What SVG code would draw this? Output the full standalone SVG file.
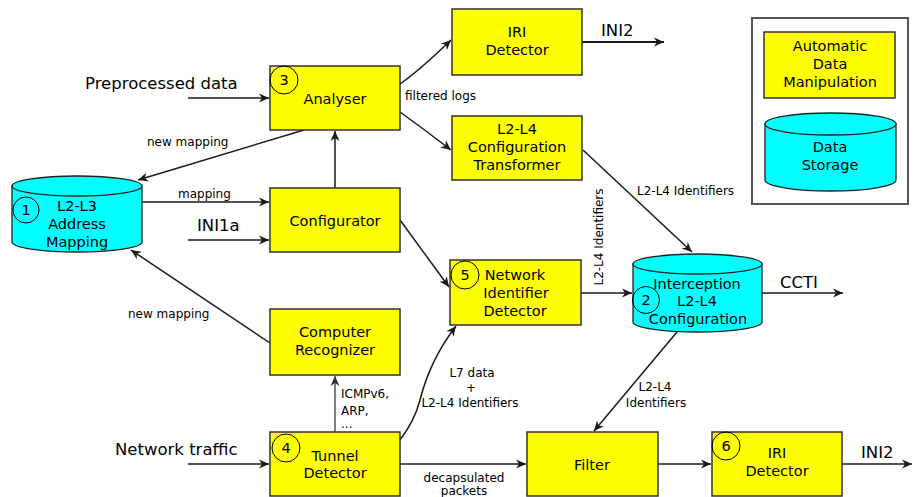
<svg xmlns="http://www.w3.org/2000/svg" width="913" height="497" viewBox="0 0 913 497">
<style>
text{font-family:"DejaVu Sans","Liberation Sans",sans-serif;fill:#000}
.box{fill:#ffff00;stroke:#333;stroke-width:1.5}
.cyl{fill:#00ffff;stroke:#222;stroke-width:1.3}
.t{font-size:14.5px;text-anchor:middle}
.big{font-size:16.5px}
.lbl{font-size:12px}
.num{fill:none;stroke:#000;stroke-width:1}
.c line,.c path{stroke:#1a1a1a;stroke-width:1.5;fill:none;marker-end:url(#arr)}
</style>
<defs>
<marker id="arr" viewBox="-11 -6 12 12" refX="0" refY="0" markerWidth="12" markerHeight="12" markerUnits="userSpaceOnUse" orient="auto">
<path d="M0,0 L-10,-4.5 L-7,0 L-10,4.5 Z" fill="#1a1a1a"/>
</marker>
<marker id="arrg" viewBox="-11 -6 12 12" refX="0" refY="0" markerWidth="12" markerHeight="12" markerUnits="userSpaceOnUse" orient="auto">
<path d="M0,0 L-10,-4.5 L-7,0 L-10,4.5 Z" fill="#333"/>
</marker>
</defs>
<rect width="913" height="497" fill="#fff"/>

<g id="connectors" class="c">
<line x1="188" y1="98" x2="269" y2="98"/>
<line x1="304" y1="130" x2="138" y2="180"/>
<line x1="335" y1="188" x2="335" y2="131"/>
<path d="M400,84 Q420,70 451,40"/>
<path d="M400,112 Q425,130 451,150"/>
<line x1="582" y1="42" x2="664" y2="42" style="stroke-width:2"/>
<line x1="142" y1="202" x2="269" y2="202"/>
<line x1="188" y1="240" x2="269" y2="240"/>
<line x1="400" y1="220" x2="449" y2="287"/>
<line x1="583" y1="150" x2="692" y2="252"/>
<line x1="581" y1="293" x2="632" y2="293"/>
<line x1="762" y1="293" x2="843" y2="293"/>
<line x1="677" y1="332" x2="594" y2="431"/>
<line x1="270" y1="343" x2="131" y2="250"/>
<line x1="335" y1="432" x2="335" y2="376" style="stroke:#808080;stroke-width:2;marker-end:url(#arrg)"/>
<path d="M400,440 Q415,420 420,400 Q430,360 456,326"/>
<line x1="188" y1="464" x2="269" y2="464"/>
<line x1="400" y1="464" x2="526" y2="464"/>
<line x1="658" y1="464" x2="711" y2="464"/>
<line x1="842" y1="464" x2="912" y2="464"/>
</g>

<g id="labels">
<text class="big" x="85" y="89">Preprocessed data</text>
<text class="big" x="197" y="231">INI1a</text>
<text class="big" x="115" y="455">Network traffic</text>
<text class="big" x="601" y="36">INI2</text>
<text class="big" x="780" y="288">CCTI</text>
<text class="big" x="861" y="458">INI2</text>
<text class="lbl" x="147" y="146">new mapping</text>
<text class="lbl" x="178" y="198">mapping</text>
<text class="lbl" x="405" y="100">filtered logs</text>
<text class="lbl" x="637" y="195">L2-L4 Identifiers</text>
<text class="lbl" text-anchor="middle" transform="translate(603,237) rotate(-90)">L2-L4 Identifiers</text>
<text class="lbl" x="128" y="318">new mapping</text>
<text class="lbl" x="341" y="398">ICMPv6,</text>
<text class="lbl" x="341" y="415">ARP,</text>
<text class="lbl" x="341" y="428">...</text>
<text class="lbl" text-anchor="middle" x="472" y="377">L7 data</text>
<text class="lbl" text-anchor="middle" x="471" y="392">+</text>
<text class="lbl" text-anchor="middle" x="470" y="407">L2-L4 Identifiers</text>
<text class="lbl" text-anchor="middle" x="655" y="391">L2-L4</text>
<text class="lbl" text-anchor="middle" x="656" y="407">Identifiers</text>
<text class="lbl" text-anchor="middle" x="464" y="482">decapsulated</text>
<text class="lbl" text-anchor="middle" x="464" y="495">packets</text>
</g>

<g id="analyser">
<rect class="box" x="270" y="66" width="130" height="64"/>
<circle class="num" cx="284" cy="80" r="14"/>
<text class="t" x="284" y="85">3</text>
<text class="t" x="335" y="104">Analyser</text>
</g>

<g id="iri-top">
<rect class="box" x="452" y="9" width="130" height="66"/>
<text class="t" x="517" y="37">IRI</text>
<text class="t" x="517" y="55">Detector</text>
</g>

<g id="transformer">
<rect class="box" x="452" y="116" width="130" height="64"/>
<text class="t" x="517" y="134">L2-L4</text>
<text class="t" x="517" y="152">Configuration</text>
<text class="t" x="517" y="170">Transformer</text>
</g>

<g id="configurator">
<rect class="box" x="270" y="188" width="130" height="64"/>
<text class="t" x="335" y="226">Configurator</text>
</g>

<g id="recognizer">
<rect class="box" x="270" y="309" width="130" height="66"/>
<text class="t" x="335" y="337">Computer</text>
<text class="t" x="335" y="355">Recognizer</text>
</g>

<g id="tunnel">
<rect class="box" x="270" y="432" width="130" height="64"/>
<circle class="num" cx="286" cy="448" r="14"/>
<text class="t" x="286" y="453">4</text>
<text class="t" x="335" y="461">Tunnel</text>
<text class="t" x="335" y="478">Detector</text>
</g>

<g id="nid">
<rect class="box" x="450" y="260" width="131" height="65"/>
<circle class="num" cx="465" cy="275" r="14"/>
<text class="t" x="465" y="280">5</text>
<text class="t" x="515" y="280">Network</text>
<text class="t" x="516" y="298">Identifier</text>
<text class="t" x="515" y="316">Detector</text>
</g>

<g id="filter">
<rect class="box" x="527" y="432" width="131" height="64"/>
<text class="t" x="592" y="470">Filter</text>
</g>

<g id="iri-bottom">
<rect class="box" x="712" y="432" width="130" height="64"/>
<circle class="num" cx="726" cy="446" r="14"/>
<text class="t" x="726" y="451">6</text>
<text class="t" x="777" y="458">IRI</text>
<text class="t" x="777" y="476">Detector</text>
</g>

<g id="l2l3">
<path class="cyl" d="M12,186 L12,242 A65,10 0 0 0 142,242 L142,186 Z"/>
<ellipse class="cyl" cx="77" cy="186" rx="65" ry="10"/>
<circle class="num" cx="26" cy="210" r="13"/>
<text class="t" x="26" y="215">1</text>
<text class="t" x="77" y="211">L2-L3</text>
<text class="t" x="77" y="229">Address</text>
<text class="t" x="77" y="247">Mapping</text>
</g>

<g id="interception">
<path class="cyl" d="M633,264 L633,322 A64.5,10 0 0 0 762,322 L762,264 Z"/>
<ellipse class="cyl" cx="697.5" cy="264" rx="64.5" ry="10"/>
<circle class="num" cx="646" cy="300" r="13.5"/>
<text class="t" x="646" y="305">2</text>
<text class="t" x="697" y="289">Interception</text>
<text class="t" x="697" y="306">L2-L4</text>
<text class="t" x="698" y="324">Configuration</text>
</g>

<g id="legend">
<rect x="752" y="18" width="156" height="186" fill="none" stroke="#555" stroke-width="2"/>
<rect class="box" x="764" y="32" width="131" height="66"/>
<text class="t" x="830" y="51">Automatic</text>
<text class="t" x="830" y="69">Data</text>
<text class="t" x="830" y="87">Manipulation</text>
<path class="cyl" d="M765,124 L765,180 A65.5,11 0 0 0 896,180 L896,124 Z"/>
<ellipse class="cyl" cx="830.5" cy="124" rx="65.5" ry="11"/>
<text class="t" x="830" y="152">Data</text>
<text class="t" x="830" y="170">Storage</text>
</g>
</svg>
